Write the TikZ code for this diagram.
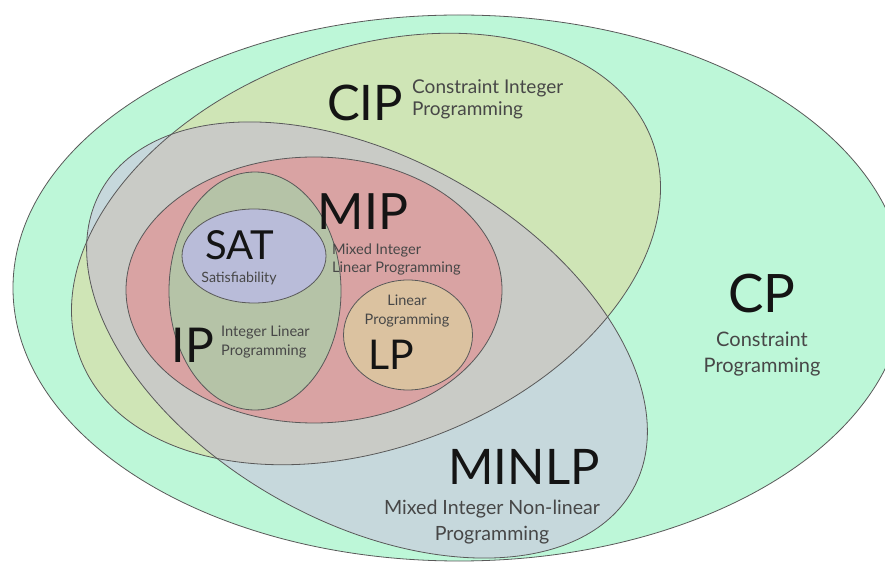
\documentclass[tikz,border=0pt]{standalone}
\usepackage{fontspec}
\setmainfont{Lato}
\begin{document}
\begin{tikzpicture}[x=1pt,y=1pt,
  setline/.style={draw=black!65, line width=0.8pt},
  biglabel/.style={inner sep=0pt, text=black!92},
  sublabel/.style={inner sep=0pt, text=black!72, align=center},
]
\definecolor{cpfill}{HTML}{BDF7D8}
\definecolor{cipfill}{HTML}{CFE5B6}
\definecolor{minlpfill}{HTML}{C6D8DC}
\definecolor{bothfill}{HTML}{C9CBC6}
\definecolor{mipfill}{HTML}{D9A3A3}
\definecolor{ipfill}{HTML}{B5C3A7}
\definecolor{satfill}{HTML}{B9BCD9}
\definecolor{lpfill}{HTML}{DBC2A0}

\useasboundingbox (0,0) rectangle (885,562);
\fill[white] (0,0) rectangle (885,562);

% outer set: constraint programming
\path[fill=cpfill, setline] (459,274) ellipse (446 and 273);

% the two overlapping sets
\def\cippath{(366,313) ellipse [x radius=306, y radius=199, rotate=21]}
\def\minlppath{(367,222) ellipse [x radius=305, y radius=182, rotate=-29.4]}
\fill[cipfill] \cippath;
\fill[minlpfill] \minlppath;
\begin{scope}
  \clip \cippath;
  \fill[bothfill] \minlppath;
\end{scope}
\draw[setline] \cippath;
\draw[setline] \minlppath;

% nested sets inside the overlap
\path[fill=mipfill, setline] (314,272) ellipse (188 and 133);
\path[fill=ipfill, setline] (255,271) ellipse (86 and 119);
\path[fill=satfill, setline] (254,306) ellipse (72 and 47);
\path[fill=lpfill, setline] (408,227) ellipse (64.5 and 55);

% labels
\node[biglabel, font=\fontsize{49}{49}\selectfont] (cip) at (365,459) {CIP};
\node[sublabel, anchor=west, align=left, font=\fontsize{19}{22}\selectfont] (cipsub) at (412,463) {Constraint Integer\\Programming};

\node[biglabel, font=\fontsize{53}{53}\selectfont] (cp) at (762,268) {CP};
\node[sublabel, font=\fontsize{20}{26}\selectfont] (cpsub) at (762,208) {Constraint\\Programming};

\node[biglabel, font=\fontsize{49}{49}\selectfont] (minlp) at (524,95) {MINLP};
\node[sublabel, font=\fontsize{19.6}{26}\selectfont] (minlpsub) at (492,40) {Mixed Integer Non-linear\\Programming};

\node[biglabel, font=\fontsize{50}{50}\selectfont] (mip) at (363,350) {MIP};
\node[sublabel, anchor=west, align=left, font=\fontsize{14.6}{18}\selectfont] (mipsub) at (332,303) {Mixed Integer\\Linear Programming};

\node[biglabel, font=\fontsize{40}{40}\selectfont] (sat) at (240,317) {SAT};
\node[sublabel, font=\fontsize{14.2}{16}\selectfont] (satsub) at (239,284) {Satisfiability};

\node[biglabel, font=\fontsize{48}{48}\selectfont] (ip) at (193,217) {IP};
\node[sublabel, anchor=west, align=left, font=\fontsize{14.6}{19}\selectfont] (ipsub) at (221,219.5) {Integer Linear\\Programming};

\node[biglabel, font=\fontsize{41}{41}\selectfont] (lp) at (391,207) {LP};
\node[sublabel, font=\fontsize{14.5}{19}\selectfont] (lpsub) at (407,250.5) {Linear\\Programming};
\end{tikzpicture}
\end{document}
